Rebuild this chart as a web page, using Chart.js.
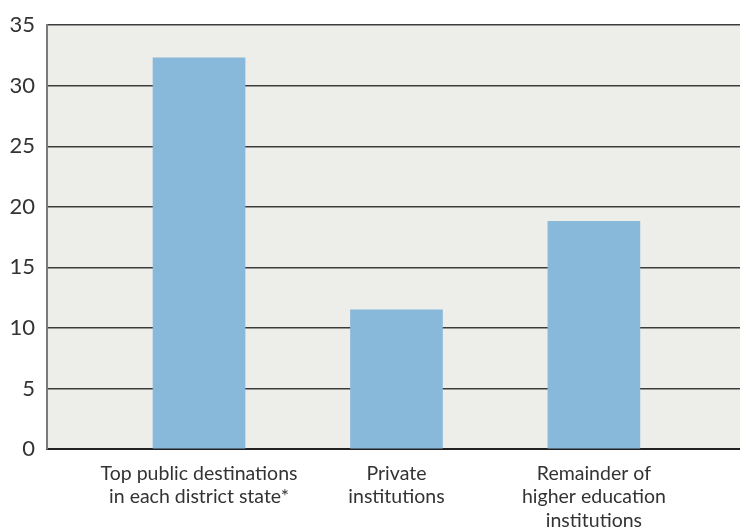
<!DOCTYPE html>
<html>
<head>
<meta charset="utf-8">
<script src="https://cdn.jsdelivr.net/npm/chart.js@4/dist/chart.umd.min.js"></script>
<style>
  html, body { margin: 0; padding: 0; background: #fff; }
  #wrap { width: 740px; height: 528px; }
</style>
</head>
<body>
<div id="wrap"><canvas id="barchart" width="740" height="528"></canvas></div>
<script>
var categories = [
    ['Top public destinations', 'in each district state*'],
    ['Private', 'institutions'],
    ['Remainder of', 'higher education', 'institutions']
];
var shares = [32.3, 11.5, 18.8];
var yTicks = [0, 5, 10, 15, 20, 25, 30, 35];

var points = shares.map(function (v, i) { return { x: i, y: v }; });

var plotBg = {
    id: 'plotBg',
    beforeDraw: function (chart) {
        var a = chart.chartArea, c = chart.ctx;
        c.save();
        c.fillStyle = '#edeee9';
        c.fillRect(a.left, a.top, a.right - a.left, a.bottom - a.top);
        c.restore();
    }
};

var ctx = document.getElementById('barchart').getContext('2d');
var myChart = new Chart(ctx, {
    type: 'bar',
    data: {
        datasets: [{
            data: points,
            backgroundColor: '#88b8da',
            borderWidth: 0,
            barThickness: 92
        }]
    },
    options: {
        responsive: false,
        animation: false,
        layout: { padding: { top: 24, right: 0, bottom: 0, left: 0 } },
        plugins: { legend: { display: false }, tooltip: { enabled: false } },
        scales: {
            x: {
                type: 'linear',
                offset: false,
                min: -0.77,
                max: 2.74,
                afterBuildTicks: function (scale) {
                    scale.ticks = categories.map(function (c, i) { return { value: i }; });
                },
                afterFit: function (scale) { scale.height = 79; },
                grid: { display: false },
                border: { display: true, color: '#222', width: 2 },
                ticks: {
                    autoSkip: false,
                    maxRotation: 0,
                    padding: 5,
                    color: '#333',
                    font: { family: 'Lato', size: 19.5, lineHeight: 1.2 },
                    callback: function (v) { return categories[v]; }
                }
            },
            y: {
                min: 0,
                max: 35,
                afterBuildTicks: function (scale) {
                    scale.ticks = yTicks.map(function (v) { return { value: v }; });
                },
                afterFit: function (scale) { scale.width = 47; },
                grid: { color: '#3c3c3c', lineWidth: 1.5, drawTicks: false },
                border: { display: true, color: '#7a7a7a', width: 2 },
                ticks: {
                    padding: 12,
                    color: '#333',
                    font: { family: 'Lato', size: 22 }
                }
            }
        }
    },
    plugins: [plotBg]
});
</script>
</body>
</html>
